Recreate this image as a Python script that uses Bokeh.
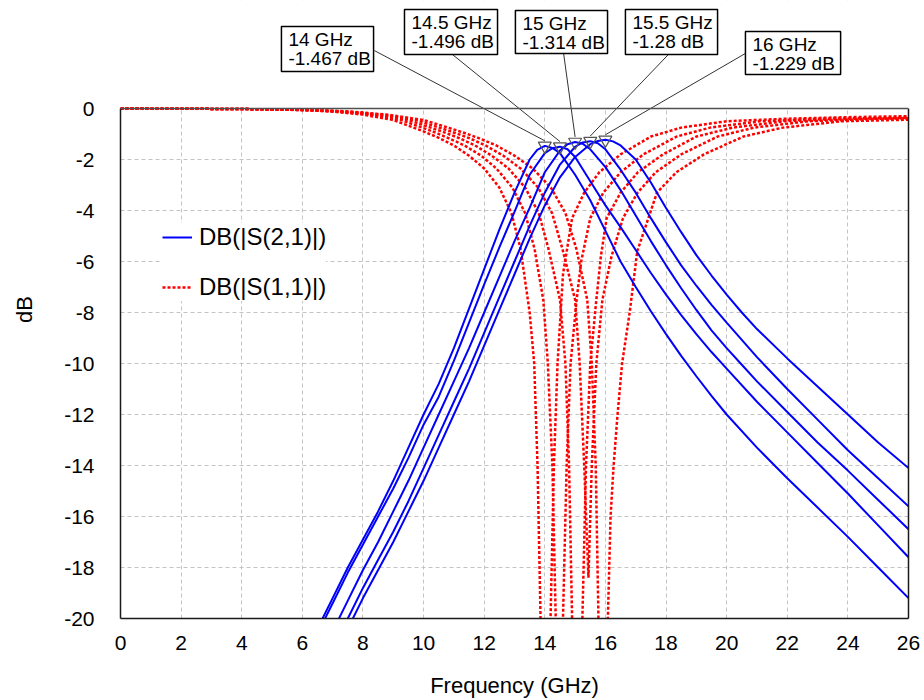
from bokeh.plotting import figure
from bokeh.models import (Range1d, FixedTicker, LinearAxis, Span, BoxAnnotation,
                          Legend, LegendItem, ColumnDataSource)
from bokeh.core.properties import value
from bokeh.embed import file_html
from bokeh.resources import INLINE

# ---------------- data ----------------
centers_ghz = [14.0, 14.5, 15.0, 15.5, 16.0]
peak_db = [-1.467, -1.496, -1.314, -1.28, -1.229]
x_ticks = [0, 2, 4, 6, 8, 10, 12, 14, 16, 18, 20, 22, 24, 26]
y_ticks = [-20, -18, -16, -14, -12, -10, -8, -6, -4, -2, 0]

# |S21| in dB for the five filters
s21_f_14 = [6.5, 7, 7.5, 8, 8.5, 9, 9.5, 10, 10.5, 11, 11.5, 12, 12.5, 13, 13.5, 13.75, 14, 14.25, 14.5,
            15, 15.5, 16, 16.5, 17, 17.5, 18, 18.5, 19, 19.5, 20, 21, 22, 23, 24, 25, 26]
s21_db_14 = [-20.4, -19.2, -18.0, -16.9, -15.8, -14.6, -13.3, -12.0, -10.8, -9.4, -7.85, -6.3, -4.75, -3.3, -2.0,
             -1.62, -1.467, -1.55, -1.75, -2.6, -3.6, -4.8, -6.0, -7.0, -7.95, -8.85, -9.7, -10.5, -11.27, -12.0,
             -13.3, -14.5, -15.65, -16.8, -18.0, -19.2]
s21_f_145 = [6.5, 7, 7.5, 8, 8.5, 9, 9.5, 10, 10.5, 11, 11.5, 12, 12.5, 13, 13.5, 14, 14.25, 14.5, 14.75, 15,
             15.5, 16, 16.5, 17, 17.5, 18, 18.5, 19, 19.5, 20, 21, 22, 23, 24, 25, 26]
s21_db_145 = [-20.6, -19.4, -18.2, -17.1, -16.0, -14.9, -13.7, -12.4, -11.3, -9.9, -8.4, -6.9, -5.45, -4.05, -2.6,
              -1.75, -1.56, -1.496, -1.6, -1.9, -2.85, -3.8, -4.65, -5.55, -6.45, -7.3, -8.1, -8.85, -9.55, -10.2,
              -11.5, -12.7, -13.9, -15.1, -16.35, -17.6]
s21_f_15 = [7, 7.5, 8, 8.5, 9, 9.5, 10, 10.5, 11, 11.5, 12, 12.5, 13, 13.5, 14, 14.5, 14.75, 15, 15.25, 15.5,
            16, 16.5, 17, 17.5, 18, 18.5, 19, 19.5, 20, 20.5, 21, 22, 23, 24, 25, 26]
s21_db_15 = [-20.5, -19.3, -18.1, -17.0, -15.8, -14.6, -13.3, -12.0, -10.7, -9.4, -8.0, -6.6, -5.2, -3.9, -2.5,
             -1.65, -1.4, -1.314, -1.38, -1.6, -2.3, -3.2, -4.2, -5.2, -6.15, -7.05, -7.9, -8.7, -9.4, -10.05,
             -10.7, -11.9, -13.1, -14.2, -15.35, -16.5]
s21_f_155 = [7, 7.5, 8, 8.5, 9, 9.5, 10, 10.5, 11, 11.5, 12, 12.5, 13, 13.5, 14, 14.5, 15, 15.25, 15.5, 15.75,
             16, 16.5, 17, 17.5, 18, 18.5, 19, 19.5, 20, 21, 22, 23, 24, 25, 26]
s21_db_155 = [-21.2, -20.0, -18.8, -17.7, -16.6, -15.4, -14.1, -12.8, -11.5, -10.2, -8.8, -7.4, -6.0, -4.6, -3.3,
              -2.2, -1.5, -1.33, -1.28, -1.36, -1.6, -2.4, -3.3, -4.3, -5.25, -6.15, -6.95, -7.7, -8.4, -9.75,
              -11.0, -12.2, -13.4, -14.5, -15.6]
s21_f_16 = [7, 7.5, 8, 8.5, 9, 9.5, 10, 10.5, 11, 11.5, 12, 12.5, 13, 13.5, 14, 14.5, 15, 15.5, 15.75, 16,
            16.25, 16.5, 17, 17.5, 18, 18.5, 19, 19.5, 20, 20.5, 21, 22, 23, 24, 25, 26]
s21_db_16 = [-21.6, -20.4, -19.2, -18.1, -17.0, -15.8, -14.6, -13.3, -12.0, -10.7, -9.3, -7.9, -6.5, -5.1, -3.8,
             -2.7, -1.9, -1.4, -1.27, -1.229, -1.29, -1.45, -2.0, -2.9, -3.9, -4.85, -5.75, -6.55, -7.3, -8.0,
             -8.65, -9.8, -10.9, -12.0, -13.1, -14.1]

# |S11| in dB for the five filters
s11_f_14 = [0, 4, 6, 7, 8, 9, 10, 10.5, 11, 11.5, 12, 12.5, 12.9, 13.2, 13.5, 13.65, 13.76, 13.86, 13.95, 14.02,
            14.1, 14.19, 14.3, 14.42, 14.6, 14.9, 15.3, 15.8, 16.5, 17.5, 18.5, 20, 22, 24, 26]
s11_db_14 = [0, -0.02, -0.06, -0.12, -0.24, -0.45, -0.9, -1.15, -1.45, -1.85, -2.35, -3.1, -4.1, -5.5, -8.0,
             -10.0, -14.0, -20.0, -27.0, -30.0, -24.0, -20.0, -14.0, -10.0, -6.5, -4.3, -3.3, -2.5, -1.8, -1.1,
             -0.75, -0.5, -0.4, -0.34, -0.3]
s11_f_145 = [0, 4, 6.1, 7.15, 8.2, 9.25, 10.3, 10.8, 11.35, 11.9, 12.4, 12.93, 13.35, 13.66, 13.95, 14.1, 14.25,
             14.36, 14.48, 14.6, 14.72, 14.85, 15.05, 15.2, 15.5, 15.93, 16.5, 17.25, 18.35, 19.45, 21.1, 23.3, 26]
s11_db_145 = [0, -0.02, -0.06, -0.12, -0.24, -0.45, -0.9, -1.15, -1.45, -1.85, -2.35, -3.1, -4.1, -5.5, -7.5,
              -10.0, -14.0, -20.0, -28.0, -20.0, -14.0, -10.0, -7.5, -6.0, -4.3, -3.3, -2.5, -1.8, -1.1, -0.75,
              -0.5, -0.4, -0.36]
s11_f_15 = [0, 4, 6.2, 7.3, 8.4, 9.5, 10.6, 11.15, 11.7, 12.25, 12.8, 13.35, 13.8, 14.12, 14.5, 14.68, 14.8, 14.9,
            15.07, 15.24, 15.36, 15.5, 15.7, 15.85, 16.04, 16.5, 17.07, 17.9, 19.0, 20.2, 21.9, 24.2, 26]
s11_db_15 = [0, -0.02, -0.06, -0.12, -0.24, -0.45, -0.9, -1.15, -1.45, -1.85, -2.35, -3.1, -4.1, -5.5, -7.5,
             -10.0, -14.0, -20.0, -27.0, -20.0, -14.0, -10.0, -7.5, -5.8, -4.3, -3.3, -2.5, -1.8, -1.1, -0.75,
             -0.5, -0.4, -0.37]
s11_f_155 = [0, 4, 6.3, 7.45, 8.6, 9.75, 10.9, 11.48, 12.05, 12.63, 13.2, 13.78, 14.24, 14.58, 15.0, 15.15, 15.3,
             15.44, 15.55, 15.7, 15.9, 16.2, 16.58, 17.06, 17.66, 18.5, 19.7, 20.9, 22.7, 25.1, 26]
s11_db_155 = [0, -0.02, -0.06, -0.12, -0.24, -0.45, -0.9, -1.15, -1.45, -1.85, -2.35, -3.1, -4.1, -5.5, -7.5,
              -10.0, -14.0, -18.4, -14.0, -10.0, -7.5, -5.8, -4.3, -3.3, -2.5, -1.8, -1.1, -0.75, -0.5, -0.4,
              -0.38]
s11_f_16 = [0, 4, 6.4, 7.6, 8.8, 10.0, 11.2, 11.8, 12.4, 13.0, 13.6, 14.2, 14.68, 15.04, 15.4, 15.55, 15.68, 15.77,
            15.93, 16.08, 16.17, 16.27, 16.4, 16.55, 16.8, 17.05, 17.7, 18.34, 19.25, 20.55, 21.85, 23.8, 26]
s11_db_16 = [0, -0.02, -0.06, -0.12, -0.24, -0.45, -0.9, -1.15, -1.45, -1.85, -2.35, -3.1, -4.1, -5.5, -7.5,
             -10.0, -14.0, -20.0, -28.0, -20.0, -16.0, -14.0, -12.0, -10.0, -8.0, -5.6, -3.3, -2.5, -1.8, -1.1,
             -0.75, -0.5, -0.44]

s21_curves = [(s21_f_14, s21_db_14), (s21_f_145, s21_db_145), (s21_f_15, s21_db_15),
              (s21_f_155, s21_db_155), (s21_f_16, s21_db_16)]
s11_curves = [(s11_f_14, s11_db_14), (s11_f_145, s11_db_145), (s11_f_15, s11_db_15),
              (s11_f_155, s11_db_155), (s11_f_16, s11_db_16)]

# ---------------- layout / style ----------------
FONT = "Liberation Sans"
W, H = 924, 700
LEFT, RIGHT, TOP, BOTTOM = 120, 16, 0, 82
PX_PER_DB = 25.5
PX_PER_GHZ = (W - LEFT - RIGHT) / 26.0
Y_TOP = (H - TOP - BOTTOM) / PX_PER_DB - 20.0

# marker call-out boxes (left, right, top, bottom) in axis units, and leader start points
box_left = [5.31, 9.37, 13.03, 16.66, 20.62]
box_right = [8.35, 12.44, 16.07, 19.70, 23.76]
box_top = [3.22, 3.88, 3.84, 3.88, 3.02]
box_bottom = [1.45, 2.12, 2.16, 2.12, 1.33]
lead_x0 = [8.38, 10.95, 14.62, 18.08, 20.62]
lead_y0 = [2.27, 2.12, 2.16, 2.12, 2.16]

p = figure(width=W, height=H, x_range=Range1d(0, 26), y_range=Range1d(-20, Y_TOP),
           output_backend="svg", toolbar_location=None,
           min_border_left=LEFT, min_border_right=RIGHT, min_border_top=TOP, min_border_bottom=BOTTOM)
p.outline_line_color = None
p.background_fill_color = "white"
p.border_fill_color = "white"

# axes
for ax in (p.xaxis[0], p.yaxis[0]):
    ax.major_tick_line_color = None
    ax.minor_tick_line_color = None
    ax.major_tick_out = 0
    ax.major_tick_in = 0
    ax.minor_tick_out = 0
    ax.minor_tick_in = 0
    ax.axis_line_color = "#1a1a1a"
    ax.axis_line_width = 1.5
    ax.major_label_text_font = FONT
    ax.major_label_text_font_size = "21px"
    ax.major_label_text_color = "black"
    ax.axis_label_text_font = FONT
    ax.axis_label_text_font_size = "22px"
    ax.axis_label_text_font_style = "normal"
    ax.axis_label_text_color = "black"
p.xaxis.ticker = FixedTicker(ticks=x_ticks)
p.yaxis.ticker = FixedTicker(ticks=y_ticks)
p.xaxis.major_label_overrides = {t: str(t) for t in x_ticks}
p.yaxis.major_label_overrides = {t: str(t) for t in y_ticks}
p.yaxis.bounds = (-20, 0)
p.xaxis.axis_label = "Frequency (GHz)"
p.yaxis.axis_label = "dB"
p.xaxis.major_label_standoff = 17
p.yaxis.major_label_standoff = 26
p.xaxis.axis_label_standoff = 20
p.yaxis.axis_label_standoff = 24

right_ax = LinearAxis(ticker=FixedTicker(ticks=[]), bounds=(-20, 0), axis_line_color="#1a1a1a",
                      axis_line_width=1.5, major_tick_line_color=None, minor_tick_line_color=None,
                      major_tick_out=0, major_tick_in=0, minor_tick_out=0, minor_tick_in=0,
                      major_label_text_font_size="0px", major_label_standoff=0)
p.add_layout(right_ax, "right")

# grid
for g, t in ((p.xgrid[0], x_ticks), (p.ygrid[0], y_ticks)):
    g.ticker = FixedTicker(ticks=t)
    g.grid_line_color = "#c4c4c4"
    g.grid_line_dash = "4 3"
    g.grid_line_width = 1

# hide grid above the 0 dB line (area used for call-outs)
p.add_layout(BoxAnnotation(bottom=0, fill_color="white", fill_alpha=1.0, line_color=None, level="underlay"))

# curves
red_renderers = []
for f, d in s11_curves:
    r = p.line(f, d, line_color="#ff0000", line_width=2.5, line_dash="3 2")
    red_renderers.append(r)
blue_renderers = []
for f, d in s21_curves:
    r = p.line(f, d, line_color="#0000ff", line_width=2)
    blue_renderers.append(r)

# top frame line at 0 dB
p.add_layout(Span(location=0, dimension="width", line_color="#505050", line_width=1.5))

# markers & call-outs
labels1 = [f"{c:g} GHz" for c in centers_ghz]
labels2 = [f"{v:g} dB" for v in peak_db]
mk_top = [v + 0.2 for v in peak_db]
src = ColumnDataSource(dict(fc=centers_ghz, pk=peak_db, mk_top=mk_top, l1=labels1, l2=labels2,
                            bl=box_left, br=box_right, bt=box_top, bb=box_bottom,
                            lx=lead_x0, ly=lead_y0,
                            tx=[b + 7 / PX_PER_GHZ for b in box_left],
                            t1y=[t - 13 / PX_PER_DB for t in box_top],
                            t2y=[t - 32 / PX_PER_DB for t in box_top]))
p.segment(x0="lx", y0="ly", x1="fc", y1="mk_top", source=src, line_color="#333333", line_width=1)
p.scatter(x="fc", y="pk", source=src, marker="inverted_triangle", size=13,
          line_color="#555555", line_width=1.2, fill_alpha=0)
p.quad(left="bl", right="br", top="bt", bottom="bb", source=src, fill_color="white",
       line_color="black", line_width=1.5)
p.text(x="tx", y="t1y", text="l1", source=src, text_font=value(FONT), text_font_size="19px",
       text_color="black", text_baseline="alphabetic", text_align="left")
p.text(x="tx", y="t2y", text="l2", source=src, text_font=value(FONT), text_font_size="19px",
       text_color="black", text_baseline="alphabetic", text_align="left")

# legend
legend = Legend(items=[LegendItem(label="DB(|S(2,1)|)", renderers=[blue_renderers[0]]),
                       LegendItem(label="DB(|S(1,1)|)", renderers=[red_renderers[0]])],
                location=(42, 317), orientation="vertical",
                background_fill_color="white", background_fill_alpha=1.0, border_line_color=None,
                label_text_font=FONT, label_text_font_size="24px", label_text_color="black",
                glyph_width=30, glyph_height=20, label_height=20, spacing=22, padding=8, margin=0,
                label_standoff=7)
p.add_layout(legend)

open("out.html", "w").write(file_html(p, INLINE))
